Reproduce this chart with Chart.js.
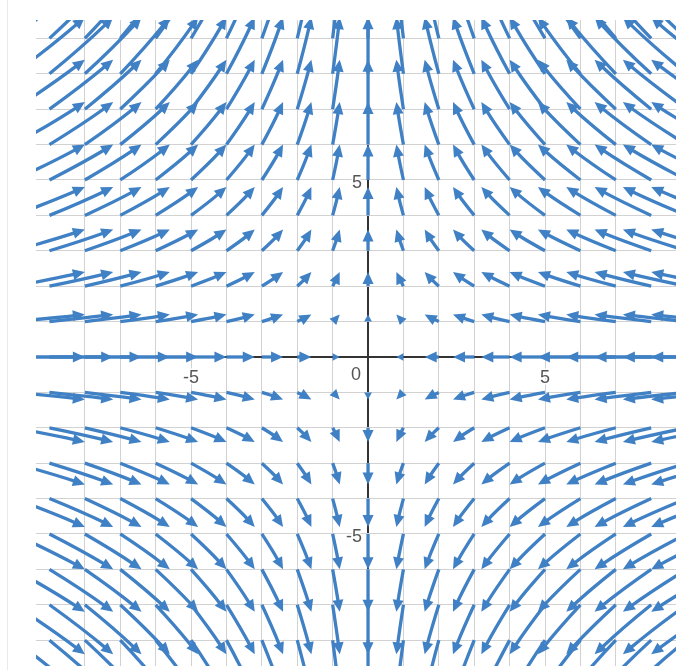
<!DOCTYPE html>
<html>
<head>
<meta charset="utf-8">
<script src="https://cdn.jsdelivr.net/npm/chart.js@4.4.1/dist/chart.umd.min.js"></script>
<style>
  html, body { margin: 0; padding: 0; background: #fff; }
  #wrap { position: relative; width: 676px; height: 670px; }
</style>
</head>
<body>
<div id="wrap"><canvas id="field"></canvas></div>
<script>
// grid points where every arrow starts
const gridX = [-10, -9, -8, -7, -6, -5, -4, -3, -2, -1, 0, 1, 2, 3, 4, 5, 6, 7, 8, 9, 10];
const gridY = [-10, -9, -8, -7, -6, -5, -4, -3, -2, -1, 0, 1, 2, 3, 4, 5, 6, 7, 8, 9, 10, 11];
// horizontal run of the arrows in each column
const stepX = [2.0, 1.8, 1.6, 1.4, 1.2, 1.0, 0.8, 0.6, 0.4, 0.2, 0,
               -0.2, -0.4, -0.6, -0.8, -1.0, -1.2, -1.4, -1.6, -1.8, -2.0];
// vertical rise of the arrows in each row
const stepY = [-2.0, -1.8, -1.6, -1.4, -1.2, -1.0, -0.8, -0.6, -0.4, -0.2, 0,
               0.2, 0.4, 0.6, 0.8, 1.0, 1.2, 1.4, 1.6, 1.8, 2.0, 2.2];
const xTickLabels = [-5, 5];
const yTickLabels = [-5, 5];
const originLabel = '0';

const arrowColor = '#4080c4';
const headLen = 12;
const headHalf = 5.5;
// slight bend of the shafts
const bendX = 0.52, bendY = 0.48;

const arrows = [];
gridY.forEach((y, j) => {
    gridX.forEach((x, i) => {
        if (stepX[i] === 0 && stepY[j] === 0) return;
        arrows.push({ x: x, y: y, dx: stepX[i], dy: stepY[j] });
    });
});

const frameLine = {
    id: 'frameLine',
    beforeDraw(chart) {
        const ctx = chart.ctx;
        ctx.save();
        ctx.strokeStyle = '#e4eaf0';
        ctx.lineWidth = 1;
        ctx.beginPath();
        ctx.moveTo(7.5, 0);
        ctx.lineTo(7.5, chart.height);
        ctx.stroke();
        ctx.restore();
    }
};

const arrowDraw = {
    id: 'arrowDraw',
    afterDatasetsDraw(chart) {
        const { ctx, chartArea, scales } = chart;
        const xs = scales.x, ys = scales.y;
        ctx.save();
        ctx.beginPath();
        ctx.rect(chartArea.left, chartArea.top, chartArea.right - chartArea.left, chartArea.bottom - chartArea.top);
        ctx.clip();
        ctx.strokeStyle = arrowColor;
        ctx.fillStyle = arrowColor;
        ctx.lineWidth = 3.3;
        ctx.lineCap = 'butt';

        chart.data.datasets[0].data.forEach(p => {
            const x0 = xs.getPixelForValue(p.x), y0 = ys.getPixelForValue(p.y);
            const cx = xs.getPixelForValue(p.x + bendX * p.dx), cy = ys.getPixelForValue(p.y + bendY * p.dy);
            const x1 = xs.getPixelForValue(p.x + p.dx), y1 = ys.getPixelForValue(p.y + p.dy);

            let tx = x1 - cx, ty = y1 - cy;
            let tl = Math.hypot(tx, ty);
            if (tl < 0.01) { tx = x1 - x0; ty = y1 - y0; tl = Math.hypot(tx, ty); }
            const ux = tx / tl, uy = ty / tl;
            const total = Math.hypot(x1 - x0, y1 - y0);
            const head = Math.min(headLen, total);
            const hw = headHalf * Math.max(0.7, head / headLen);
            const bx = x1 - ux * head, by = y1 - uy * head;

            if (total > head) {
                ctx.beginPath();
                ctx.moveTo(x0, y0);
                ctx.quadraticCurveTo(cx, cy, bx + ux * 2, by + uy * 2);
                ctx.stroke();
            }
            ctx.beginPath();
            ctx.moveTo(x1, y1);
            ctx.lineTo(bx - uy * hw, by + ux * hw);
            ctx.lineTo(bx + uy * hw, by - ux * hw);
            ctx.closePath();
            ctx.fill();
        });
        ctx.restore();
    }
};

const axisLabels = {
    id: 'axisLabels',
    afterDraw(chart) {
        const { ctx, scales } = chart;
        const ax = scales.x.getPixelForValue(0), ay = scales.y.getPixelForValue(0);
        ctx.save();
        ctx.font = '18px "Liberation Sans", Arial, sans-serif';
        ctx.fillStyle = '#555';
        ctx.strokeStyle = 'rgba(255,255,255,0.9)';
        ctx.lineWidth = 3;
        ctx.lineJoin = 'round';
        const put = (txt, x, y) => { ctx.strokeText(txt, x, y); ctx.fillText(txt, x, y); };

        ctx.textAlign = 'center';
        ctx.textBaseline = 'middle';
        xTickLabels.forEach(v => put(String(v), scales.x.getPixelForValue(v), ay + 21));

        ctx.textAlign = 'right';
        yTickLabels.forEach(v => put(String(v), ax - 6, scales.y.getPixelForValue(v) + 3));
        put(originLabel, ax - 7, ay + 18);
        ctx.restore();
    }
};

const gridColor = (c) => {
    const v = c.tick.value;
    if (v === 0) return '#333';
    return Number.isInteger(v) ? '#d2d2d2' : 'rgba(0,0,0,0)';
};
const gridWidth = (c) => (c.tick.value === 0 ? 2 : 1);

new Chart(document.getElementById('field'), {
    type: 'scatter',
    data: {
        datasets: [{
            label: 'field',
            data: arrows,
            pointRadius: 0,
            pointHoverRadius: 0,
            showLine: false
        }]
    },
    options: {
        responsive: true,
        maintainAspectRatio: false,
        animation: false,
        layout: { padding: { left: 36, top: 20, right: 0, bottom: 4 } },
        scales: {
            x: {
                type: 'linear',
                min: -9.38,
                max: 8.70,
                ticks: { stepSize: 1, display: false },
                grid: { color: gridColor, lineWidth: gridWidth, drawTicks: false },
                border: { display: false }
            },
            y: {
                type: 'linear',
                min: -8.73,
                max: 9.52,
                ticks: { stepSize: 1, display: false },
                grid: { color: gridColor, lineWidth: gridWidth, drawTicks: false },
                border: { display: false }
            }
        },
        plugins: {
            legend: { display: false },
            tooltip: { enabled: false }
        }
    },
    plugins: [frameLine, arrowDraw, axisLabels]
});
</script>
</body>
</html>
